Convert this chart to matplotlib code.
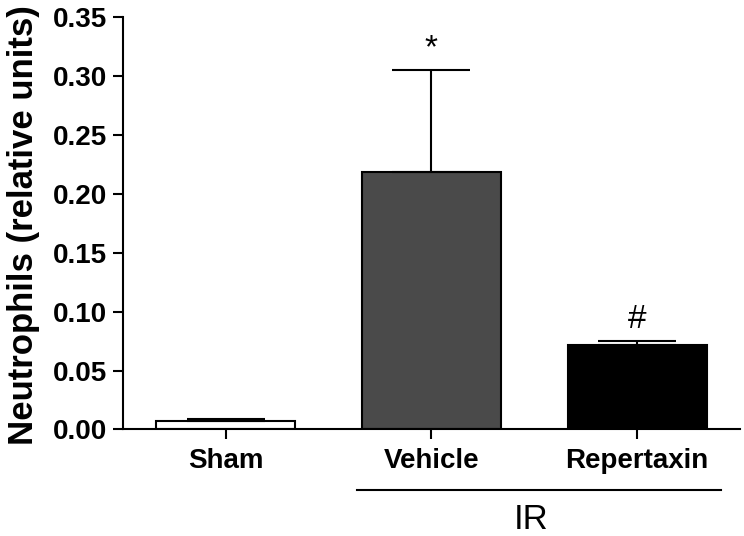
import matplotlib
matplotlib.use("Agg")
import matplotlib.pyplot as plt
import matplotlib.transforms as mtransforms

categories = ["Sham", "Vehicle", "Repertaxin"]
means = [0.007, 0.218, 0.072]
sem = [0.002, 0.087, 0.003]
colors = ["#ffffff", "#4a4a4a", "#000000"]
marks = ["", "*", "#"]
yticks = [0.00, 0.05, 0.10, 0.15, 0.20, 0.25, 0.30, 0.35]
group_label = "IR"
ylabel = "Neutrophils (relative units)"

plt.rcParams["font.family"] = ["Liberation Sans", "DejaVu Sans"]

fig = plt.figure(figsize=(7.44, 5.36), dpi=100)
ax = fig.add_axes([0.165, 0.1987, 0.8296, 0.7701])

x = list(range(len(categories)))
ax.bar(x, means, width=0.675, color=colors, edgecolor="black", linewidth=1.5, zorder=2)
ax.errorbar(x, means, yerr=[[0] * len(sem), sem], fmt="none", ecolor="black",
            elinewidth=1.5, capsize=28, capthick=1.5, zorder=3)

for xi, m, s, t in zip(x, means, sem, marks):
    if t:
        ax.annotate(t, xy=(xi, m + s), xytext=(0, 4), textcoords="offset points",
                    ha="center", va="bottom", fontsize=24)

ax.set_xlim(-0.5, 2.5)
ax.set_ylim(0, 0.35)
ax.set_yticks(yticks)
ax.set_yticklabels([f"{v:.2f}" for v in yticks])
ax.set_xticks(x)
ax.set_xticklabels(categories)

for sp in ["top", "right"]:
    ax.spines[sp].set_visible(False)
for sp in ["left", "bottom"]:
    ax.spines[sp].set_linewidth(1.5)

ax.tick_params(axis="both", direction="out", length=7.5, width=1.5, labelsize=20)
ax.tick_params(axis="y", pad=4)
ax.tick_params(axis="x", pad=6)
for lab in ax.get_xticklabels() + ax.get_yticklabels():
    lab.set_fontweight("bold")

ax.set_ylabel(ylabel, fontsize=25, fontweight="bold")
ax.yaxis.set_label_coords(-0.134, 0.495)

trans = mtransforms.blended_transform_factory(ax.transData, ax.transAxes)
ax.plot([x[1] - 0.36, x[2] + 0.41], [-0.1466, -0.1466], color="black", lw=1.5,
        transform=trans, clip_on=False)
ax.text((x[1] + x[2]) / 2 - 0.015, -0.219, group_label, transform=trans,
        ha="center", va="center", fontsize=25)

fig.savefig("out.png", dpi=100)
